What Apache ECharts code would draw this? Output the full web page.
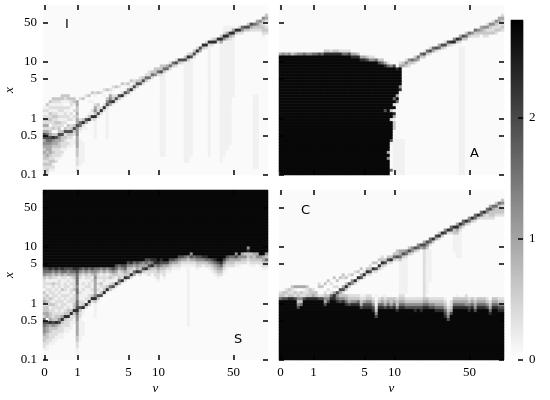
<!DOCTYPE html>
<html>
<head>
<meta charset="utf-8">
<style>html,body{margin:0;padding:0;background:#fff}#c{width:550px;height:400px}</style>
<script src="https://cdn.jsdelivr.net/npm/echarts@6/dist/echarts.min.js"></script>
</head>
<body>
<div id="c"></div>
<script>
// Tick positions on the v axis (cell indices on the 75-cell grid) and their labels.
const vTickCells = [0, 11, 28, 38, 63];
const vTickLabels = ['0', '1', '5', '10', '50'];
const xTicks = [0.1, 0.5, 1, 5, 10, 50];
const xMin = 0.1, xMax = 102;
const colorTicks = [0, 1, 2];
const colorMax = 2.81;
const nCols = 75, nRows = 57;
// Shade levels 0..9, as colour-bar values.
const levels = [0.06, 0.15, 0.36, 0.62, 0.95, 1.25, 1.6, 1.95, 2.3, 2.72];

// One string per column, left to right. "r:digits" lays levels downward from row r (0 = top);
// "p-q:d" fills rows p..q with level d; cells not mentioned are background (level 0).
const panelI = [
"34:12123242 42:477 45:4543433232210","33:3121232424 43:67 45:6544343232321","32:31213232 41:2347 45:65444323321","31:3 32:21212322 40:23 43:38 45:5432322 52:3121","31:32 33:1212323 40:22 43:37 45:44322 50:212",
"31:3 32:2122 36:121323 42:3 43:7 44:5 45:4332221","30:33 32:112 35:2121 39:22 42:37 44:3 45:32 47:2121","30:3 31:2 32:1 34:2122 38:12 41:3 42:72 44:3 45:2221","30:33 32:1 34:2112 38:2 40:32 42:73 44:2 45:121","31:32 33:21 36:212 40:2 41:37 43:3 44:21 46:11",
"31:3 32:3 33:1 35:2 37:21 40:37 42:3 43:2 45:11","32:44 34:3 35:34 37:34 39:47 41:5 42:5544 46:443 49:3322 53:212",
"31:2 38:2 39:66 41:2 42:1 45-53:1","31:3 38:3 39:8 40:2 41:1 46-52:1","30:2 37:1 38:7 39:4 41:1","30:3 32:1 36:1 37:3 38:8 39:1","29:3 32:1 35:2 36:1 37:8 38:2",
"29:2 30:1 33:2 34:4 35:5 36:3 37:8 38:2 39-44:1","29:3 33:3 34:2 35:2 36:7 37:2","29:2 34:2 35:8 36:2","28:2 30:1 33:2 34:8 35:2","28:3 31:3 32:5 33:7 34:2 35-44:1",
"28:2 29:1 30:4 31:5 32:7 33:4","27:2 28:1 30:2 31:3 32:8 33:1","27:3 30:2 31:7 32:2","27:2 30:7 31:3","26:3 29:2 30:8 31:1",
"26:2 28:1 29:7 30:2","26:3 27:1 28:5 29:5","25:3 27:2 28:8 29:1","25:2 26:2 27:7 28:2","25:3 26:7 27:3",
"24:2 25:3 26:7","24:3 25:7 26:2","23:2 24:6 25:3","22:2 23:2 24:6 25:1","22:3 23:6 24:2",
"21:3 22:3 23:5","21:3 22:6 23:2","20:3 21:3 22:7 23:2 24-50:1","20:3 21:6 22:3 23-50:1","20:4 21:6 22:1",
"19:2 20:6 21:2","19:6 20:3","18:2 19:7 20:2","18:7 19:3","18:7 19:2",
"17:3 18:7 19-52:1","16:2 17:8 18:3 19-52:1","16:3 17:7 18-50:1","15:3 16:7 17:2","14:2 15:8 16:2",
"14:7 15:4","13:8 14:3","12:2 13:8 14:2","12:8 13:2 14-50:1","11:2 12:8 13:2",
"11:3 12:8","11:8 12:2","10:3 11:8 12:4 13-52:1","7-8:1 9:2 10:8 11:5 12-50:1","7-8:1 9:4 10:8 11:3 12-48:1",
"7-8:1 9:8 10:4 11:2 12-46:1","7:1 8:4 9:8 10:3 11-30:1","8:8 9:3","7:2 8:8 9:2","7:6 8:5 9:2",
"7:7 8:3","6:3 7:7 8:3","6:7 7:4 8:2","6:6 7:3 8:2 30-54:1","5:4 6:5 7:3 8:2 30-54:1",
"5:5 6:3 7:3 8:2","4:5 5:3 6:2 7:3 8:3 9:2 10:1","3:3 4:4 5:2 6:1 7:2 8:3 9:2"
];

const panelA = [
"16:4 17-55:9 56:8","16:5 17-56:9","16:4 17-56:9","16:5 17-56:9","16:3 17-56:9","16:4 17-56:9",
"16:5 17-56:9","16:5 17-56:9","16:6 17-56:9","16:5 17-56:9","16:5 17-56:9","16:6 17-56:9",
"16:6 17-56:9","16:7 17-56:9","16:6 17-56:9",
"15:3 16:8 17-56:9","15:3 16:8 17-56:9","15:2 16:8 17-56:9","15:3 16:8 17-56:9","15:3 16:8 17-56:9","15:2 16:8 17-56:9",
"15:2 16:6 17-56:9","15:2 16:6 17-56:9","15:2 16:7 17-56:9",
"16:4 17:8 18-56:9","16:4 17:8 18-56:9","16:3 17:8 18-56:9",
"17:4 18:8 19-56:9","17:4 18:8 19-56:9","17:3 18:7 19-56:9",
"17:2 18:5 19-56:9","17:2 18:5 19-56:9","18:6 19-56:9",
"18:3 19:7 20-56:9","18:3 19:6 20-56:9",
"19:4 20:8 21-34:9 35:7 36-56:9",
"19:2 20:6 21-48:9 49:4 50:9 51:5 52-56:9",
"20:5 21-34:9 35:3 36-37:9 38:2 39-44:9 45:7 46:1 55:6",
"20:7 21-30:9 31:6 32:9 33:2 34:9 35:1 36:8 37:4 38:1 39-41:3 45-56:1",
"21:8 22-29:9 30:4 31:9 32:6 33:1 45-56:1",
"19:2 20:4 21-26:9 27:5 28:8 45-56:1",
"19:3 20:4 45-56:1","18:2 19:5 20:3","18:5 19:3 20:2","18:6 19:3","17:3 18:5 19:2",
"17:6 18:4","16:6 17:3","15:1 16:7 17:3","15:6 16:3","14:2 15:7 16:2",
"14:6 15:4","14:7 15:2","13:4 14:6 15:1","13:7 14:3","12:2 13:7 14:2",
"12:7 13:3","12:8 13:2","11:5 12:8 13:1","11:8 12:3","10:4 11:7 12:2 14-56:1",
"10:7 11:3 14-56:1","9:3 10:6 11:3","9:6 10:3","9:5 10:2","8:6 9:3 10:2",
"8:5 9:3 10:2","7:4 8:4 9:3","7:5 8:3 9:3 10:2","6:2 7:5 8:2 9:3 10:2","6:5 7:3 8:2 9:3",
"5:2 6:5 7:2 8:2 9:3","5:5 6:3 7:2 8:3 9:2","4:4 5:4 6:2 7:2 8:3","3:2 4:4 5:3 6:2 7:3 8:2"
];

const panelS = [
"0-25:9 26:765 29:322 32:2132 36:3423 40:343 43:676 46:554 49:332 52:21","0-25:9 26:764 29:212 32:1213 36:2323 40:344 44:75 46:443 49:322 52:11","0-25:9 26:864 29:312 32:1221 36:3231 40:233 43:4 44:8 45:4 46:33 48:2221","0-25:9 26:753 29:213 32:2122 36:2132 40:222 43:3 44:75 46:322 49:211","0-25:9 26:864 29:212 32:1212 36:1222 40:123 43:3 44:8 45:4 46:32 48:211",
"0-25:9 26:753 29:122 32:2121 36:2212 40:2 41:23 43:5 44:7 45:3 46:22 48:11","0-25:9 26:864 29:211 32:1312 36:1222 40:12 42:4 43:8 44:3 45:222 48:11","0-25:9 26:763 29:212 32:2212 36:2121 40:2 41:3 42:8 43:3 44:2 45:21 47:1","0-25:9 26:754 29:121 32:2112 36:1212 40:3 41:3 42:8 43:2 44:22 46:11","0-25:9 26:764 29:212 32:1221 36:2211 40:3 41:8 42:2 43:21 45:11",
"0-25:9 26:864 29:322 32:2312 36:2231 39:3 40:8 41:3 42:2 43:11","0-25:9 26:8 27:766 30:6656 34:6556 38:6 39:7 40:8 41:6 42:5544 46:444 49:3322 53:11","0-25:9 26:753 29:211 32:1121 36:1221 39:7 40:3 41:2 42:21 44-50:1","0-25:9 26:642 29:112 32:1211 36:122 38:3 39:8 40:11 44-48:1","0-25:9 26:753 29:211 32:2111 36:21 38:8 39:2",
"0-25:9 26:642 29:212 32:2112 36:2 37:8 38:3","0-25:9 26:753 29:121 32:1212 35:3 36:8 37:2","0-25:9 26:6545 30:44 32:44 34:45 36:8 37:3 38-42:1","0-25:9 26:642 29:212 32:121 35:7 36:3 37:1","0-25:9 26:531 29:213 32:21 34:3 35:7",
"0-25:9 26:642 29:221 32:2 33:3 34:8 35:1","0-25:9 26:531 29:211 32:3 33:8 34:1","0-25:9 26:642 29:312 32:6 33:3","0-25:9 26:753 29:212 31:3 32:7 33:1","0-24:9 25:764 28:311 31:8 32:2",
"0-24:9 25:642 28:23 30:6 31:4","0-24:9 25:753 28:22 30:8 31:1","0-24:9 25:764 28:3 29:8 30:2","0-23:9 24:753 27:3 28:3 29:7","0-23:9 24:853 27:2 28:8 29:2",
"0-23:9 24:642 27:6 28:4","0-23:9 24:75 26:4 27:8 28:1","0-23:9 24:643 27:7 28:2","0-23:9 24:5 25:4 26:7 27:3","0-22:9 23:764 26:8 27:2 28:1",
"0-22:9 23:7 24:5 25:7 26:4 27:2 28:2","0-22:9 23:8 24:6 25:8 26:3 27:2","0-22:9 23:8 24:8 25:5 26:3 27:2 28:2 29:1","0-23:9 24:86 26:4 27:3 28:2 29:2 30:1","0-22:9 23:8 24:7 25:5 26:3 27:2 28:1",
"0-22:9 23:9 24:7 25:4 26:3 27:2 28:2 29:1","0-23:9 24:7 25:4 26:2 27:1","0-22:9 23:7 24:5 25:3 26:2 27:1","0-22:9 23:7 24:4 25:2 26:1","0-22:9 23:6 24:4 25:2 26:1",
"0-21:9 22:7 23:5 24:3 25:2 26:1","0-21:9 22:7 23:4 24:2 25:1","0-21:9 22:6 23:4 24:2 25:1","0-21:9 22:5 23:3 24:2 25:1 26-45:1","0-20:9 21:5 22:7 23:4 24:2 25:1",
"0-21:9 22:6 23:4 24:2 25:1","0-21:9 22:7 23:5 24:3 25:2 26:1","0-21:9 22:7 23:5 24:3 25:2","0-21:9 22:8 23:5 24:3 25:1","0-21:9 22:8 23:6 24:3 25:2",
"0-22:9 23:6 24:4 25:2 26:1","0-22:9 23:7 24:5 25:3 26:2 27:1","0-22:9 23:8 24:6 25:4 26:3 27:2 28:1","0-23:9 24:7 25:5 26:4 27:3 28:2 29:1","0-23:9 24:8 25:6 26:4 27:3 28:2",
"0-22:9 23:7 24:5 25:3 26:2 27:1","0-21:9 22:7 23:5 24:3 25:2 26:1","0-21:9 22:6 23:4 24:3 25:2","0-21:9 22:6 23:4 24:3 25:2","0-20:9 21:5 22:7 23:4 24:2 25:1",
"0-21:9 22:5 23:4 24:2 25:1","0-20:9 21:4 22:5 23:3 24:2","0-20:9 21:3 22:5 23:3 24:2","0-18:9 19:5 20:8 21:3 22:3 23:2 24:1","0-20:9 21:3 22:4 23:3 24:2 25:1",
"0-20:9 21:4 22:3 23:3 24:2 25:1","0-20:9 21:4 22:5 23:3 24:2","0-21:9 22:5 23:3 24:2 25:1","0-21:9 22:4 23:4 24:3 25:2 26:1","0-20:9 21:5 22:3 23:6 24:3 25:2 26:1"
];

const panelC = [
"34:2 35:3 36:6 37-56:9","34:3 35:3 36:7 37-56:9","33:2 34:3 35:2 36:7 37-56:9","33:3 34:2 35:3 36:8 37-56:9","32:3 33:2 34:2 35:3 36:8 37-56:9",
"32:4 33:1 34:3 35:2 36:7 37-56:9","32:4 34:2 35:3 36:5 37:3 38:5 39:7 40-56:9","32:4 34:3 35:2 36:5 37:3 38:6 39-56:9","32:4 33:1 34:2 35:2 36:7 37-56:9","32:3 33:2 34:2 35:3 36:8 37-56:9",
"33:3 34:3 35:3 36:8 37-56:9","33:2 34:3 35:4 36:8 37-56:9","34:3 35:3 36:8 37-56:9","31:2 32:3 35:2 36:7 37-56:9","32:3 35:2 36:7 37-56:9",
"31:3 34:2 35:3 36:5 37:4 38:7 39-56:9","30:3 33:2 35:3 36:5 37:7 38-56:9","31:2 34:2 35:6 36:8 37-56:9","29:3 32:2 34:4 35:8 36:8 37-56:9","30:3 32:2 34:7 35:5 36:6 37:8 38-56:9",
"29:3 33:7 34:4 35:3 36:5 37:7 38-56:9","28:3 29:2 32:4 33:7 34:2 35:3 36:5 37:8 38-56:9","29:3 31:3 32:8 33:3 35:3 36:4 37:6 38:8 39-56:9","28:2 31:7 32:3 35:2 36:3 37:4 38:7 39-56:9","28:3 30:5 31:5 35:2 36:3 37:5 38:8 39-56:9",
"27:2 30:8 31:2 35:2 36:3 37:5 38:8 39-56:9","27:3 29:8 30:2 35:2 36:3 37:6 38:8 39-56:9","26:3 28:4 29:7 35:1 36:2 37:3 38:4 39:7 40-56:9","27:2 28:8 29:2 35:1 36:2 37:4 38:7 39:8 40-56:9","26:3 27:8 28:2 35:2 36:3 37:5 38:7 39:8 40-56:9",
"25:2 26:3 27:7 28:2 35:2 36:3 37:5 38:7 39:8 40-56:9","24:3 26:8 27:2 36:2 37:3 38:5 39:7 40:8 41-56:9","24:3 26:7 27:2 35:1 37:1 38:1 39:2 40:3 41:5 42:7 43-56:9","23:3 25:8 26:3 36:2 37:3 38:6 39:8 40-56:9","22:2 23:3 24:8 25:3 26:1 35:1 36:3 37:4 38:6 39:8 40-56:9",
"23:3 24:7 25:2 35:1 36:2 37:3 38:4 39:7 40-56:9","22:3 23:7 24:2 36:3 37:4 38:6 39:8 40-56:9","22:3 23:8 24:2 36:3 37:3 38:4 39:7 40-56:9","21:3 22:6 23:3 36:3 37:4 38:6 39:8 40-56:9","20:3 21:3 22:7 23:2 36:2 37:3 38:3 39:5 40:8 41-56:9",
"20:4 21:4 22:6 23:3 24-34:1 35:2 36:3 37:4 38:6 39:8 40-56:9","20:4 21:7 22:3 23-34:1 35:2 36:3 37:4 38:6 39:8 40-56:9","20:5 21:6 22:2 23-34:1 36:2 37:3 38:5 39:7 40-56:9","19:3 20:7 21:3 36:2 37:3 38:5 39:7 40-56:9","19:5 20:5 21:2 36:2 37:3 38:5 39:7 40-56:9",
"19:7 20:3 36:2 37:3 38:5 39:7 40:8 41-56:9","18:5 19:6 20:2 36:2 37:3 38:5 39:7 40-56:9","18:7 19:4 36:2 37:3 38:5 39:7 40:8 41-56:9","17:4 18:7 19:5 20-34:2 35:2 36:3 37:4 38:6 39:8 40-56:9","17:7 18:5 19:3 20-34:1 36:3 37:4 38:6 39:8 40-56:9",
"16:6 17:6 18:2 20-30:1 36:2 37:3 38:5 39:7 40-56:9","16:8 17:3 36:2 37:3 38:5 39:7 40-56:9","15:7 16:4 36:2 37:3 38:4 39:6 40:8 41-56:9","14:3 15:8 16:2 36:2 37:3 38:4 39:6 40:8 41-56:9","14:8 15:3 36:2 37:3 38:4 39:6 40:8 41-56:9",
"13:5 14:7 36:1 37:2 38:3 39:4 40:6 41:7 42:8 43-56:9","13:8 14:2 38:1 39:2 40:3 41:4 42:5 43:7 44-56:9","12:6 13:7 14:2 37:2 38:2 39:3 40:4 41:7 42-56:9","12:8 13:3 14:3 15-20:1 36:3 37:4 38:6 39:8 40-56:9","11:4 12:8 13:4 14:3 15-22:1 35:1 36:3 37:4 38:6 39:8 40-56:9",
"11:8 12:4 13:2 14-22:1 36:3 37:4 38:6 39:8 40-56:9","10:6 11:6 12:2 36:3 37:4 38:6 39:8 40-56:9","10:8 11:3 35:2 36:3 37:4 38:5 39:8 40-56:9","9:5 10:6 11:2 36:2 37:3 38:5 39:7 40:8 41-56:9","9:8 10:3 36:3 37:4 38:6 39:8 40-56:9",
"8:6 9:6 10:2 36:2 37:3 38:4 39:5 40:7 41-56:9","8:8 9:3 36:3 37:4 38:6 39:8 40-56:9","7:6 8:6 9:2 36:3 37:4 38:6 39:8 40-56:9","7:8 8:3 9:2 36:3 37:4 38:6 39:8 40-56:9","6:6 7:5 8:2 9:2 36:2 37:3 38:5 39:7 40-56:9",
"5:4 6:7 7:3 8:3 9:2 37:2 38:3 39:4 40:6 41:8 42-56:9","5:6 6:4 7:3 8:3 9:2 36:3 37:4 38:6 39:8 40-56:9","4:3 5:6 6:3 7:3 8:2 36:3 37:4 38:6 39:8 40-56:9","4:6 5:3 6:3 7:3 8:2 36:2 37:3 38:5 39:7 40:8 41-56:9","3:3 4:5 5:2 6:3 7:3 8:2 36:2 37:3 38:5 39:7 40:8 41-56:9"
];

function decode(cols) {
  const out = [];
  cols.forEach((s, c) => {
    const col = new Array(nRows).fill(0);
    s.split(' ').forEach(t => {
      if (!t) return;
      const [a, d] = t.split(':');
      if (a.includes('-')) {
        const [p, q] = a.split('-').map(Number);
        for (let r = p; r <= q; r++) col[r] = +d;
      } else {
        [...d].forEach((ch, i) => { if (+a + i < nRows) col[+a + i] = +ch; });
      }
    });
    col.forEach((lvl, r) => out.push([c, nRows - 1 - r, levels[lvl]]));
  });
  return out;
}

const serif = 'Liberation Serif';
const vCats = Array.from({length: nCols}, (_, i) => { const k = vTickCells.indexOf(i); return k >= 0 ? vTickLabels[k] : ''; });
const rowCats = Array.from({length: nRows}, (_, i) => String(i));
const tick = (vals, align) => ({show: true, inside: true, length: 5, alignWithLabel: align, customValues: vals, lineStyle: {color: '#000', width: 1.5}});
const nameStyle = {fontFamily: serif, fontStyle: 'italic', fontSize: 13, color: '#000'};
const labelStyle = {margin: 6, fontFamily: serif, fontSize: 13, color: '#000'};

const panels = [
  {data: panelI, left: 43, top: 5, labelX: false, labelY: true},
  {data: panelA, left: 279, top: 5, labelX: false, labelY: false},
  {data: panelS, left: 43, top: 190, labelX: true, labelY: true},
  {data: panelC, left: 279, top: 190, labelX: true, labelY: false}
];
const grid = [], xAxis = [], yAxis = [], series = [];
panels.forEach((p, i) => {
  grid.push({left: p.left, top: p.top, width: 225, height: 170});
  const xBase = {type: 'category', data: vCats, gridIndex: i, axisLine: {show: false}, splitLine: {show: false}, axisTick: tick(vTickCells, true), z: 5};
  xAxis.push(Object.assign({}, xBase, {position: 'bottom',
    name: p.labelX ? 'v' : '', nameLocation: 'middle', nameGap: 22, nameTextStyle: nameStyle,
    axisLabel: Object.assign({show: p.labelX, customValues: vTickCells, interval: 0, hideOverlap: false, formatter: v => v}, labelStyle)}));
  xAxis.push(Object.assign({}, xBase, {position: 'top', axisLabel: {show: false}}));
  const yLog = {type: 'log', logBase: 10, min: xMin, max: xMax, gridIndex: i, axisLine: {show: false}, splitLine: {show: false}, minorTick: {show: false}, axisTick: tick(xTicks, false), z: 5};
  yAxis.push({type: 'category', data: rowCats, gridIndex: i, show: false});
  yAxis.push(Object.assign({}, yLog, {position: 'left',
    name: p.labelY ? 'x' : '', nameLocation: 'middle', nameGap: 27, nameRotate: 90, nameTextStyle: nameStyle,
    axisLabel: Object.assign({show: p.labelY, customValues: xTicks, hideOverlap: false, formatter: v => String(+(+v).toPrecision(3))}, labelStyle)}));
  yAxis.push(Object.assign({}, yLog, {position: 'right', axisLabel: {show: false}}));
  series.push({type: 'heatmap', xAxisIndex: i * 2, yAxisIndex: i * 3, data: decode(p.data), progressive: 0, animation: false, silent: true, emphasis: {disabled: true}});
});

// Colour bar: a ramp of cells over the colour scale, with its own value axis.
const rampCats = Array.from({length: 340}, (_, i) => String(i));
const rampData = rampCats.map((_, i) => [0, i, (i + 0.5) / 340 * colorMax]);
grid.push({left: 511, top: 20, width: 12, height: 340});
xAxis.push({type: 'category', data: ['bar'], gridIndex: 4, show: false});
yAxis.push({type: 'category', data: rampCats, gridIndex: 4, show: false});
yAxis.push({type: 'value', gridIndex: 4, position: 'right', min: 0, max: colorMax, z: 10,
  axisLine: {show: false}, splitLine: {show: false},
  axisTick: {show: true, inside: true, length: 5, customValues: colorTicks, lineStyle: {color: '#000', width: 1.5}},
  axisLabel: Object.assign({customValues: colorTicks, formatter: v => String(v)}, labelStyle)});
series.push({type: 'heatmap', xAxisIndex: 8, yAxisIndex: 12, data: rampData, progressive: 0, animation: false, silent: true, emphasis: {disabled: true}});

const letter = (t, x, y) => ({type: 'text', left: x, top: y, z: 20, style: {text: t, fontFamily: 'DejaVu Sans', fontSize: 13, fill: '#000'}});
const chart = echarts.init(document.getElementById('c'), null, {renderer: 'canvas'});
chart.setOption({
  animation: false,
  backgroundColor: '#fff',
  grid, xAxis, yAxis, series,
  visualMap: {type: 'continuous', show: false, seriesIndex: [0, 1, 2, 3, 4], min: 0, max: colorMax, inRange: {color: ['#ffffff', '#000000']}},
  graphic: [letter('I', 65, 18), letter('A', 470, 147), letter('S', 234, 333), letter('C', 301, 204)]
});
</script>
</body>
</html>
